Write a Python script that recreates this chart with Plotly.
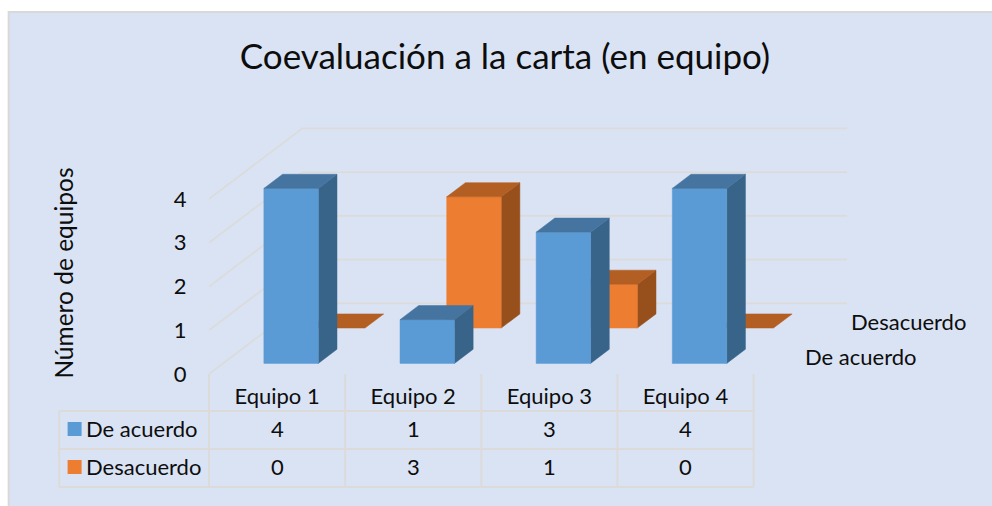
import plotly.graph_objects as go

# ---- data ----
title_text = "Coevaluación a la carta (en equipo)"
y_title = "Número de equipos"
categories = ["Equipo 1", "Equipo 2", "Equipo 3", "Equipo 4"]
series_names = ["De acuerdo", "Desacuerdo"]
de_acuerdo = [4, 1, 3, 4]
desacuerdo = [0, 3, 1, 0]
y_ticks = [0, 1, 2, 3, 4]

# ---- styling ----
FONT = "Lato"
TXT = "#0d0d0d"
BG = "#DAE3F3"
GRID = "#DCDBDA"
FACES = {
    "De acuerdo": ("#5B9BD5", "#38648A", "#44749F"),
    "Desacuerdo": ("#ED7D31", "#97501C", "#B35E22"),
}
W, H = 992, 506
L, R, T, B = 208.5, 860.0, 120.0, 374.0   # plot area in page pixels
CAT_PX, UNIT_PX = 136.25, 43.75           # one category, one value unit
DEPTH_X, DEPTH_Y = 93.5, 70.7             # oblique depth vector in pixels
BAR_W, BAR_L = 0.4, 0.3                   # bar width / inset within a category
BAR_D, SERIES_D = 0.2, [0.15, 0.65]       # bar depth / depth inset per series
dx, dy = DEPTH_X / CAT_PX, DEPTH_Y / UNIT_PX


def proj(c, v, d):
    """Oblique projection of (category, value, depth) on the 2D axes."""
    return c + d * dx, v + d * dy


def px(x):
    return (x - L) / (R - L)


def py(y):
    return (B - y) / (B - T)


fig = go.Figure()


def poly(pts, color):
    xy = [proj(*p) for p in pts] + [proj(*pts[0])]
    fig.add_trace(go.Scatter(x=[a for a, _ in xy], y=[b for _, b in xy], mode="lines",
                             fill="toself", fillcolor=color, line=dict(color=color, width=0.5),
                             hoverinfo="skip", showlegend=False))


# gridlines on the walls
n = len(categories)
for v in y_ticks:
    xy = [proj(0, v, 0), proj(0, v, 1), proj(n, v, 1)]
    fig.add_trace(go.Scatter(x=[a for a, _ in xy], y=[b for _, b in xy], mode="lines",
                             line=dict(color=GRID, width=1.7), hoverinfo="skip", showlegend=False))

# bars, back series first
for name, vals, d0 in reversed(list(zip(series_names, [de_acuerdo, desacuerdo], SERIES_D))):
    front, side, top = FACES[name]
    d1 = d0 + BAR_D
    for i, v in enumerate(vals):
        c0, c1 = i + BAR_L, i + BAR_L + BAR_W
        if v > 0:
            poly([(c1, 0, d0), (c1, 0, d1), (c1, v, d1), (c1, v, d0)], side)
            poly([(c0, 0, d0), (c1, 0, d0), (c1, v, d0), (c0, v, d0)], front)
        poly([(c0, v, d0), (c1, v, d0), (c1, v, d1), (c0, v, d1)], top)

shapes = [dict(type="rect", xref="paper", yref="paper", x0=px(8), x1=px(1004), y0=py(12), y1=py(520),
               fillcolor=BG, line=dict(color="#D9D9D9", width=2), layer="below")]


def line(x0, y0, x1, y1):
    shapes.append(dict(type="line", xref="paper", yref="paper", x0=px(x0), x1=px(x1), y0=py(y0), y1=py(y1),
                       line=dict(color=GRID, width=2), layer="below"))


COL0 = 58.5
ROWS = [411, 449, 487]
ROW_C = [429.5, 467.5]
for y in ROWS:
    line(COL0, y, L + n * CAT_PX, y)
line(COL0, ROWS[0], COL0, ROWS[-1])
for i in range(n + 1):
    line(L + i * CAT_PX, B, L + i * CAT_PX, ROWS[-1])

anns = []
SIZE = 22


def text(x, y, s, size=SIZE, xanchor="center", angle=0, xref="paper"):
    anns.append(dict(x=x, y=py(y), xref=xref, yref="paper", text=s, showarrow=False, xanchor=xanchor,
                     yanchor="middle", textangle=angle, font=dict(family=FONT, size=size, color=TXT)))


KEY = 14
for row, (name, vals) in enumerate(zip(series_names, [de_acuerdo, desacuerdo])):
    yc = ROW_C[row]
    shapes.append(dict(type="rect", xref="paper", yref="paper", x0=px(67), x1=px(67 + KEY),
                       y0=py(yc - KEY / 2 - 0.5), y1=py(yc + KEY / 2 - 0.5),
                       fillcolor=FACES[name][0], line=dict(width=0)))
    text(px(83.5), yc - 1, name, xanchor="left")
    for i, v in enumerate(vals):
        text(i + 0.5, yc - 1, str(v), xref="x")

text(px(62), 273, y_title, size=24.5, angle=-90)
text(px(803), 356, series_names[0], xanchor="left")
text(px(849), 321, series_names[1], xanchor="left")

fig.update_layout(
    width=W, height=H, paper_bgcolor="white", plot_bgcolor="rgba(0,0,0,0)",
    margin=dict(l=L, r=W - R, t=T, b=H - B, pad=0, autoexpand=False),
    title=dict(text=title_text, x=505 / W, xanchor="center", xref="container",
               y=1 - 57 / H, yanchor="middle", yref="container",
               font=dict(family=FONT, size=35, color=TXT)),
    xaxis=dict(range=[0, (R - L) / CAT_PX], tickmode="array", tickvals=[i + 0.5 for i in range(n)],
               ticktext=categories, showgrid=False, zeroline=False, showline=False,
               ticks="outside", ticklen=3, tickcolor="rgba(0,0,0,0)",
               tickfont=dict(family=FONT, size=SIZE, color=TXT)),
    yaxis=dict(range=[0, (B - T) / UNIT_PX], tickmode="array", tickvals=y_ticks,
               showgrid=False, zeroline=False, showline=False,
               ticks="outside", ticklen=17, tickcolor="rgba(0,0,0,0)",
               tickfont=dict(family=FONT, size=SIZE, color=TXT)),
    shapes=shapes, annotations=anns, showlegend=False,
)

fig.write_html("out.html", config={"displayModeBar": False},
               post_script="document.body.style.margin='0';document.documentElement.style.overflow='hidden';")
